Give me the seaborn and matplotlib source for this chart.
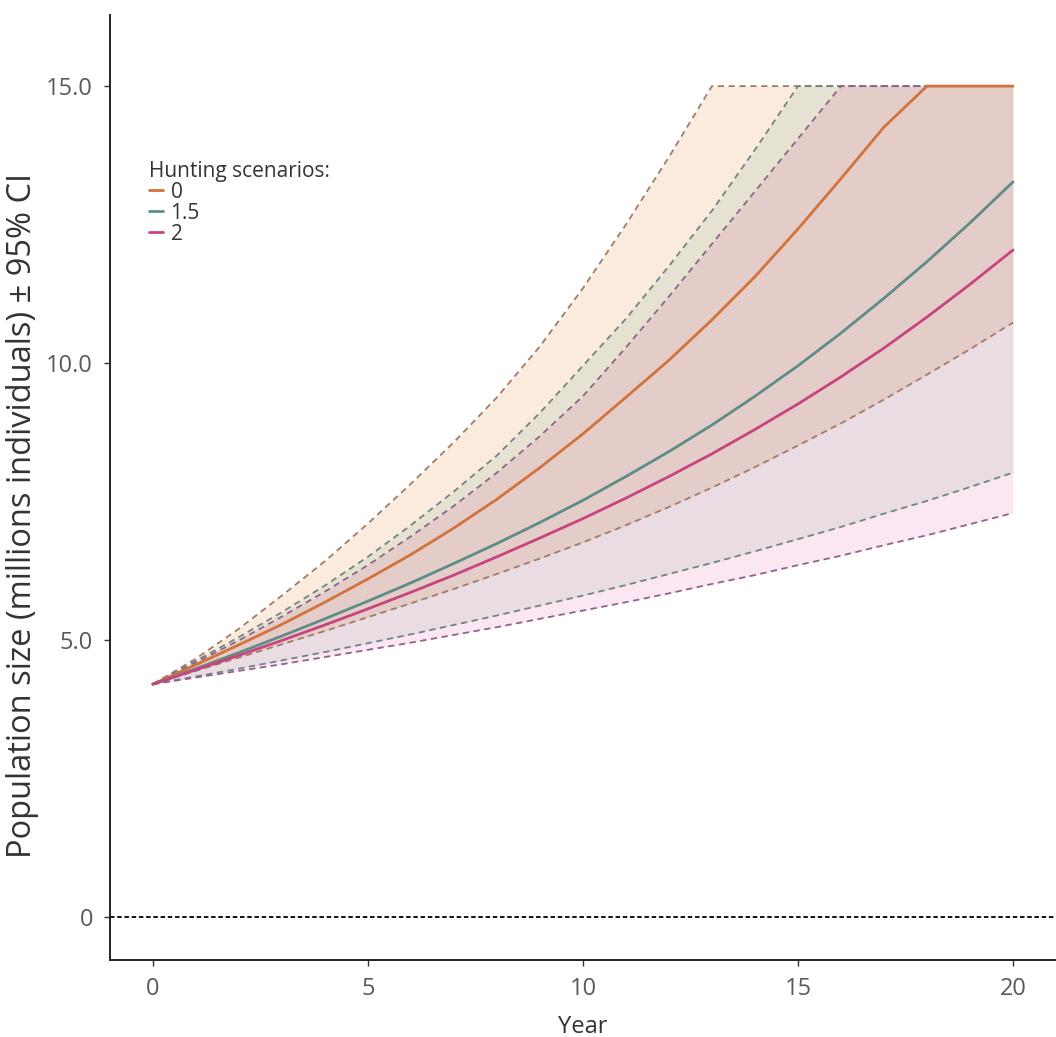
import numpy as np
import pandas as pd
import matplotlib
matplotlib.use("Agg")
import matplotlib.pyplot as plt
import seaborn as sns
from matplotlib.lines import Line2D

years = list(range(0, 21))
scenarios = ["0", "1.5", "2"]

mean_0 = [4.20, 4.55, 4.91, 5.28, 5.68, 6.10, 6.54, 7.02, 7.54, 8.11, 8.72,
          9.38, 10.05, 10.78, 11.56, 12.42, 13.33, 14.26, 15.0, 15.0, 15.0]
upper_0 = [4.20, 4.66, 5.20, 5.80, 6.42, 7.10, 7.82, 8.57, 9.38, 10.30, 11.35,
           12.50, 13.72, 15.0, 15.0, 15.0, 15.0, 15.0, 15.0, 15.0, 15.0]
lower_0 = [4.20, 4.44, 4.68, 4.92, 5.16, 5.41, 5.66, 5.92, 6.19, 6.47, 6.76,
           7.07, 7.40, 7.75, 8.12, 8.51, 8.91, 9.34, 9.79, 10.25, 10.73]

mean_15 = [4.20, 4.48, 4.77, 5.07, 5.38, 5.70, 6.03, 6.38, 6.74, 7.12, 7.52,
           7.95, 8.40, 8.88, 9.40, 9.95, 10.54, 11.17, 11.83, 12.53, 13.27]
upper_15 = [4.20, 4.62, 5.05, 5.50, 5.98, 6.50, 7.07, 7.68, 8.33, 9.10, 9.95,
            10.80, 11.75, 12.75, 13.85, 15.0, 15.0, 15.0, 15.0, 15.0, 15.0]
lower_15 = [4.20, 4.34, 4.48, 4.63, 4.78, 4.94, 5.10, 5.27, 5.44, 5.62, 5.80,
            5.99, 6.19, 6.39, 6.60, 6.82, 7.04, 7.28, 7.51, 7.76, 8.02]

mean_2 = [4.20, 4.46, 4.72, 4.99, 5.27, 5.56, 5.86, 6.17, 6.50, 6.84, 7.19,
          7.56, 7.95, 8.36, 8.80, 9.26, 9.75, 10.27, 10.83, 11.42, 12.04]
upper_2 = [4.20, 4.59, 4.99, 5.42, 5.87, 6.35, 6.87, 7.42, 8.02, 8.68, 9.40,
           10.28, 11.20, 12.15, 13.10, 14.05, 15.0, 15.0, 15.0, 15.0, 15.0]
lower_2 = [4.20, 4.32, 4.44, 4.56, 4.69, 4.82, 4.95, 5.09, 5.23, 5.38, 5.53,
           5.68, 5.84, 6.01, 6.17, 6.35, 6.52, 6.71, 6.89, 7.09, 7.29]

y_ticks = [0, 5, 10, 15]
y_tick_labels = ["0", "5.0", "10.0", "15.0"]
x_ticks = [0, 5, 10, 15, 20]

colors = {"0": "#D2733C", "1.5": "#5E8C86", "2": "#C8447E"}
fill_colors = {"0": "#DE7A1C", "1.5": "#53A88A", "2": "#E1167A"}
fill_alpha = {"0": 0.15, "1.5": 0.12, "2": 0.10}
dash_colors = {"0": "#A07C68", "1.5": "#6F8484", "2": "#8F6488"}

rows = []
for sc, m, lo, up in [("0", mean_0, lower_0, upper_0),
                      ("1.5", mean_15, lower_15, upper_15),
                      ("2", mean_2, lower_2, upper_2)]:
    for yr, a, b, c in zip(years, m, lo, up):
        rows.append({"Year": yr, "Scenario": sc, "mean": a, "lower": b, "upper": c})
df = pd.DataFrame(rows)

sns.set_theme(style="white")
plt.rcParams['font.family'] = ['Open Sans', 'DejaVu Sans']

fig = plt.figure(figsize=(10.56, 10.37), dpi=100)
ax = fig.add_axes([0.104, 0.0743, 0.896, 0.911])

for sc in scenarios:
    d = df[df["Scenario"] == sc]
    ax.fill_between(d["Year"], d["lower"], d["upper"], color=fill_colors[sc],
                    alpha=fill_alpha[sc], linewidth=0, zorder=1)

for sc in scenarios:
    d = df[df["Scenario"] == sc]
    for col in ["upper", "lower"]:
        sns.lineplot(data=d, x="Year", y=col, ax=ax, color=dash_colors[sc],
                     linewidth=1.3, linestyle=(0, (3.5, 2.5)), zorder=2)

sns.lineplot(data=df, x="Year", y="mean", hue="Scenario", hue_order=scenarios,
             palette=colors, linewidth=2.0, ax=ax, zorder=3, legend=False)

ax.axhline(0, color="black", linewidth=1.3, linestyle=(0, (2.5, 1.5)), zorder=2)

ax.set_xlim(-1.0, 21.0)
ax.set_ylim(-0.78, 16.28)
ax.set_xticks(x_ticks)
ax.set_xticklabels([str(v) for v in x_ticks])
ax.set_yticks(y_ticks)
ax.set_yticklabels(y_tick_labels)
ax.tick_params(axis="both", labelsize=17, length=4, width=1,
               direction="out", left=True, bottom=True, pad=8,
               colors="#333333", labelcolor="#5A5A5A")

for s in ["top", "right"]:
    ax.spines[s].set_visible(False)
for s in ["left", "bottom"]:
    ax.spines[s].set_color("#222222")
    ax.spines[s].set_linewidth(1.4)

ax.set_xlabel("Year", fontsize=17, color="#333333", labelpad=10)
ax.set_ylabel("Population size (millions individuals) ± 95% CI", fontsize=23.5,
              color="#333333")
ax.yaxis.set_label_coords(-0.075, 0.471)

handles = [Line2D([0], [0], color=colors[s], linewidth=2) for s in scenarios]
leg = ax.legend(handles, scenarios, title="Hunting scenarios:", loc="upper left",
                bbox_to_anchor=(0.03, 0.857), frameon=False, fontsize=15,
                title_fontsize=15, handlelength=0.7, handletextpad=0.35,
                labelspacing=0.0, borderpad=0.0)
leg._legend_box.align = "left"
for t in leg.get_texts():
    t.set_color("#333333")
leg.get_title().set_color("#333333")

fig.savefig("out.png", dpi=100)
